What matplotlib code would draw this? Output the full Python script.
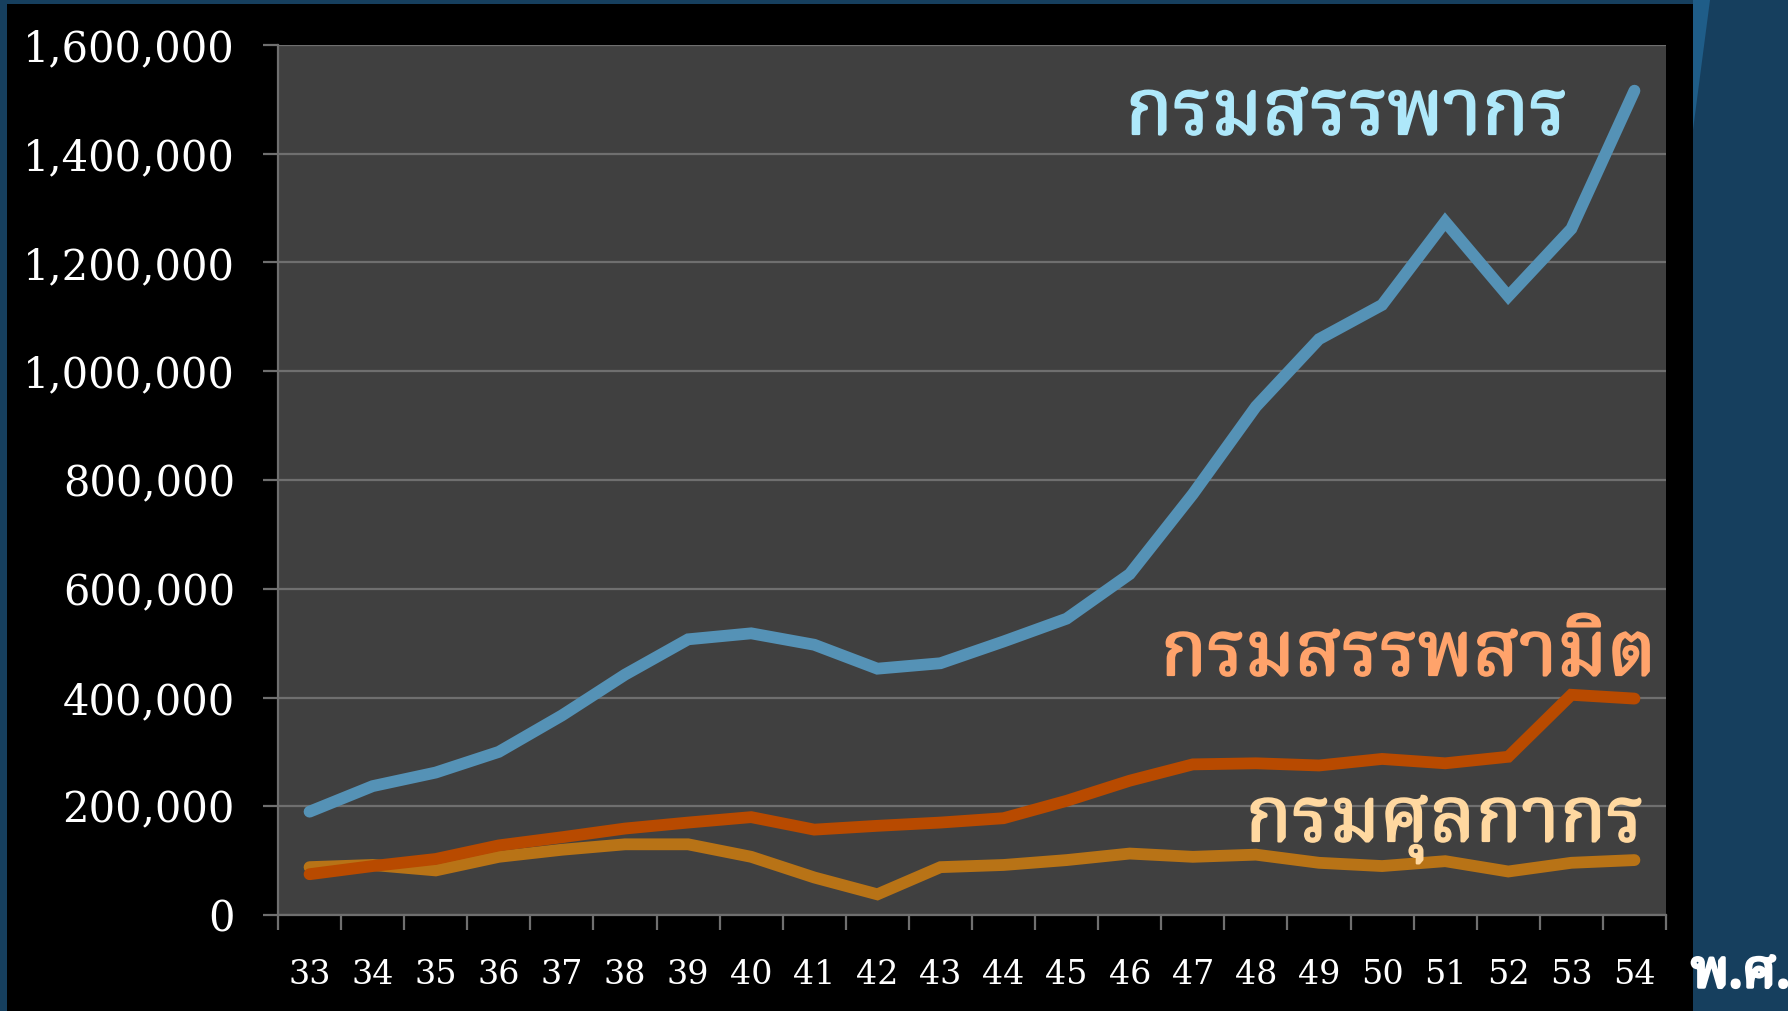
import matplotlib
matplotlib.use("Agg")
import matplotlib.pyplot as plt
from matplotlib import font_manager
from matplotlib.ft2font import FT2Font
from matplotlib.patches import Rectangle, Polygon
from matplotlib.ticker import FixedLocator, FuncFormatter
import matplotlib.patheffects as pe

# ---------------- data ----------------
years = ["33", "34", "35", "36", "37", "38", "39", "40", "41", "42", "43",
         "44", "45", "46", "47", "48", "49", "50", "51", "52", "53", "54"]
revenue_dept = [190000, 237000, 262000, 300000, 367000, 442000, 507000, 518000,
                497000, 453000, 463000, 503000, 545000, 627000, 774000, 935000,
                1059000, 1122000, 1275000, 1138000, 1262000, 1516000]
excise_dept = [75000, 90000, 103000, 128000, 143000, 159000, 170000, 180000,
               157000, 164000, 170000, 178000, 210000, 247000, 277000, 279000,
               275000, 287000, 279000, 291000, 405000, 398000]
customs_dept = [88000, 92000, 82000, 107000, 120000, 130000, 130000, 107000,
                69000, 38000, 88000, 92000, 101000, 113000, 107000, 111000,
                96000, 90000, 99000, 80000, 96000, 101000]
y_ticks = [0, 200000, 400000, 600000, 800000, 1000000, 1200000, 1400000, 1600000]
label_revenue = "กรมสรรพากร"
label_excise = "กรมสรรพสามิต"
label_customs = "กรมศุลกากร"
x_unit = "พ.ศ."

# ---------------- find a Thai-capable font ----------------
preferred = ["Noto Serif Thai", "Noto Sans Thai Looped", "Noto Sans Thai", "Sarabun",
             "Loma", "Norasi", "Garuda", "Kinnari", "Laksaman", "TH Sarabun New",
             "Tlwg Typo", "Umpush", "Waree", "Purisa", "Sawasdee"]
thai_fams = []
seen = set()
for f in font_manager.fontManager.ttflist:
    if f.name in seen:
        continue
    try:
        cm = FT2Font(f.fname).get_charmap()
        if 0x0E01 in cm and 0x0E23 in cm and 0x0E28 in cm:
            thai_fams.append(f.name)
            seen.add(f.name)
    except Exception:
        pass
thai_family = None
for p in preferred:
    if p in thai_fams:
        thai_family = p
        break
if thai_family is None and thai_fams:
    thai_family = thai_fams[0]
thai_list = ([thai_family] if thai_family else []) + ["DejaVu Sans"]

# ---------------- figure ----------------
W, H = 1788, 1011
fig = plt.figure(figsize=(W / 100, H / 100), dpi=100)
fig.patch.set_facecolor("#163f5e")

# lighter blue accent at top right
fig.patches.append(Polygon([[1693 / W, 1.0], [1710 / W, 1.0], [1693 / W, 1 - 130 / H]],
                           closed=True, transform=fig.transFigure,
                           facecolor="#1f5d88", edgecolor="none", zorder=-2))
# black slide panel
fig.patches.append(Rectangle((7 / W, 0), (1693 - 7) / W, 1 - 4 / H,
                             transform=fig.transFigure, facecolor="black",
                             edgecolor="none", zorder=-1))

ax = fig.add_axes([278 / W, 1 - 915 / H, 1388 / W, (915 - 45) / H])
ax.set_zorder(2)
ax.set_facecolor("#404040")

x = list(range(len(years)))
lw = 8.5
ax.plot(x, customs_dept, color="#b87316", lw=lw, solid_capstyle="round",
        solid_joinstyle="miter", zorder=3)
ax.plot(x, excise_dept, color="#b84a00", lw=lw, solid_capstyle="round",
        solid_joinstyle="miter", zorder=4)
ax.plot(x, revenue_dept, color="#5592b6", lw=lw, solid_capstyle="round",
        solid_joinstyle="miter", zorder=5)

ax.set_xlim(-0.5, len(years) - 0.5)
ax.set_ylim(0, 1600000)

grid_c = "#6f6f6f"
ax.set_yticks(y_ticks)
ax.yaxis.set_major_formatter(FuncFormatter(lambda v, p: f"{int(v):,}"))
ax.grid(axis="y", color=grid_c, lw=1.6, zorder=1)
ax.set_axisbelow(True)

ax.xaxis.set_major_locator(FixedLocator([i - 0.5 for i in range(len(years) + 1)]))
ax.xaxis.set_major_formatter(FuncFormatter(lambda v, p: ""))
ax.set_xticks(x, labels=years, minor=True)

for s in ["top", "right"]:
    ax.spines[s].set_visible(False)
for s in ["left", "bottom"]:
    ax.spines[s].set_color(grid_c)
    ax.spines[s].set_linewidth(1.6)

ax.tick_params(axis="y", which="major", length=11, width=1.6, color=grid_c,
               labelcolor="white", labelsize=30, pad=20)
ax.tick_params(axis="x", which="major", length=11, width=1.6, color=grid_c)
ax.tick_params(axis="x", which="minor", length=0, labelcolor="white",
               labelsize=24, pad=32)
for t in ax.get_yticklabels():
    t.set_family("DejaVu Serif")
for t in ax.get_xticklabels(minor=True):
    t.set_family("DejaVu Serif")

# ---------------- series labels ----------------
def thai_label(xp, yp, s, color, size, stroke, ha="right"):
    fig.text(xp / W, 1 - yp / H, s, color=color, fontsize=size,
             fontweight="bold", ha=ha, va="baseline", family=thai_list,
             zorder=5,
             path_effects=[pe.withStroke(linewidth=stroke, foreground=color)])

thai_label(1568, 134, label_revenue, "#aee8fa", 56, 1.6)
thai_label(1656, 675, label_excise, "#ffa36b", 55, 1.6)
thai_label(1644, 841, label_customs, "#ffd8a0", 55, 1.6)
thai_label(1691, 987, x_unit, "white", 38, 2.5, ha="left")

fig.savefig("out.png", dpi=100, facecolor=fig.get_facecolor())
